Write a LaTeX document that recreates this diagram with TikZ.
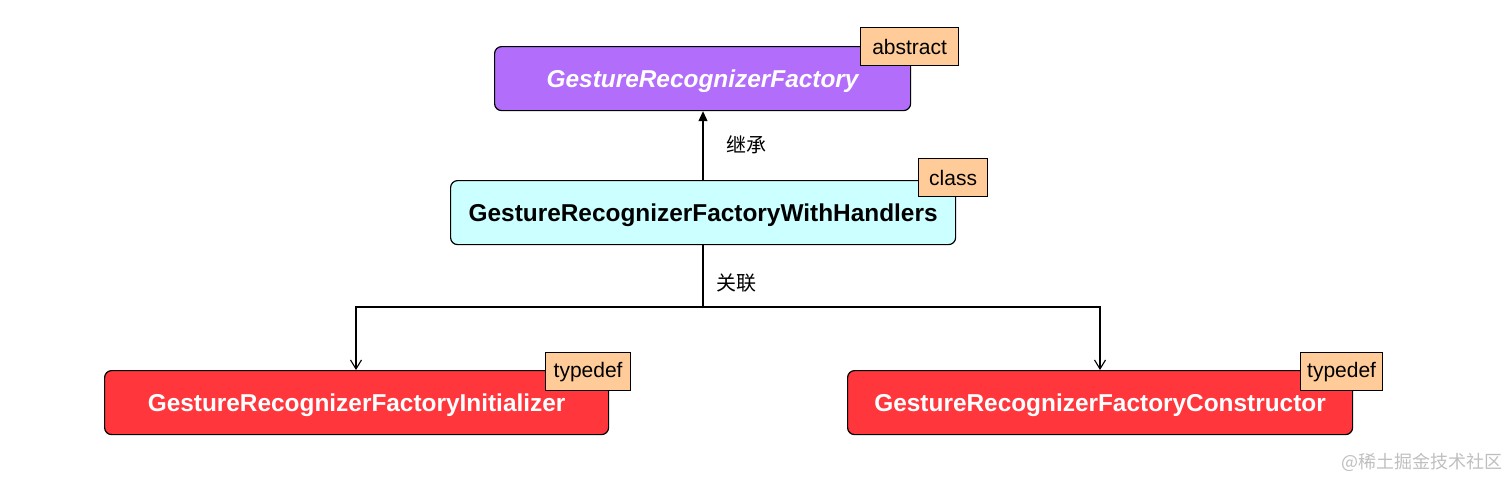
\documentclass[tikz,border=0pt]{standalone}
\usepackage{fontspec}
\setmainfont{Liberation Sans}
\newfontfamily\cjk{Noto Sans CJK SC}
\usetikzlibrary{arrows.meta}
\definecolor{cpurple}{HTML}{B26EFB}
\definecolor{ccyan}{HTML}{CCFFFF}
\definecolor{cred}{HTML}{FF363C}
\definecolor{ctag}{HTML}{FFCC99}
\begin{document}
\begin{tikzpicture}[x=1pt,y=-1pt,
  box/.style={draw=black,line width=1.2pt,rounded corners=7pt,anchor=north west,inner sep=0pt},
  tagbox/.style={draw=black,line width=1.2pt,fill=ctag,anchor=north west,inner sep=0pt,font=\fontsize{21}{24}\selectfont},
  title/.style={font=\fontsize{24.4}{28}\selectfont\bfseries},
  ititle/.style={font=\fontsize{24.4}{28}\selectfont\bfseries\itshape},
  lbl/.style={font=\cjk\fontsize{20}{22}\selectfont},
  conn/.style={line width=1.1pt,draw=black}]
\useasboundingbox (0,0) rectangle (1512,479);
% boxes
\node[box,fill=cpurple,minimum width=416pt,minimum height=64pt] (top) at (494,46) {};
\node[ititle,text=white] (toptext) at ([yshift=-2.5pt]top.center) {GestureRecognizerFactory};
\node[tagbox,minimum width=98pt,minimum height=38pt] (t1) at (860,27) {abstract};

\node[box,fill=ccyan,minimum width=505pt,minimum height=64pt] (mid) at (450,180) {};
\node[title] (midtext) at ([yshift=-2.5pt]mid.center) {GestureRecognizerFactoryWithHandlers};
\node[tagbox,minimum width=69pt,minimum height=38pt] (t2) at (918,158) {class};

\node[box,fill=cred,minimum width=504pt,minimum height=64pt] (bl) at (104,370) {};
\node[title,text=white] (bltext) at ([yshift=-2.5pt]bl.center) {GestureRecognizerFactoryInitializer};
\node[tagbox,minimum width=85pt,minimum height=38pt] (t3) at (545,352) {typedef};

\node[box,fill=cred,minimum width=505pt,minimum height=64pt] (br) at (847,370) {};
\node[title,text=white] (brtext) at ([yshift=-2.5pt]br.center) {GestureRecognizerFactoryConstructor};
\node[tagbox,minimum width=82pt,minimum height=38pt] (t4) at (1300,352) {typedef};

% connectors
\coordinate (split) at (703,307);
\draw[conn,-{Triangle[length=10pt,width=9pt]}] (mid.north -| 703,0) -- (top.south -| 703,0);
\node[lbl] (l1) at (746,145) {继承};
\node[lbl] (l2) at (736,283) {关联};
\draw[conn] (mid.south -| 703,0) -- (split);
\draw[conn,-{Straight Barb[length=9pt,width=11pt]}] (split) -| (bl.north -| 356,0);
\draw[conn,-{Straight Barb[length=9pt,width=11pt]}] (split) -| (br.north -| 1100,0);

\node[font=\cjk\fontsize{18}{20}\selectfont,text=black!25,anchor=east] (wm) at (1506,462) {@稀土掘金技术社区};
\end{tikzpicture}
\end{document}
